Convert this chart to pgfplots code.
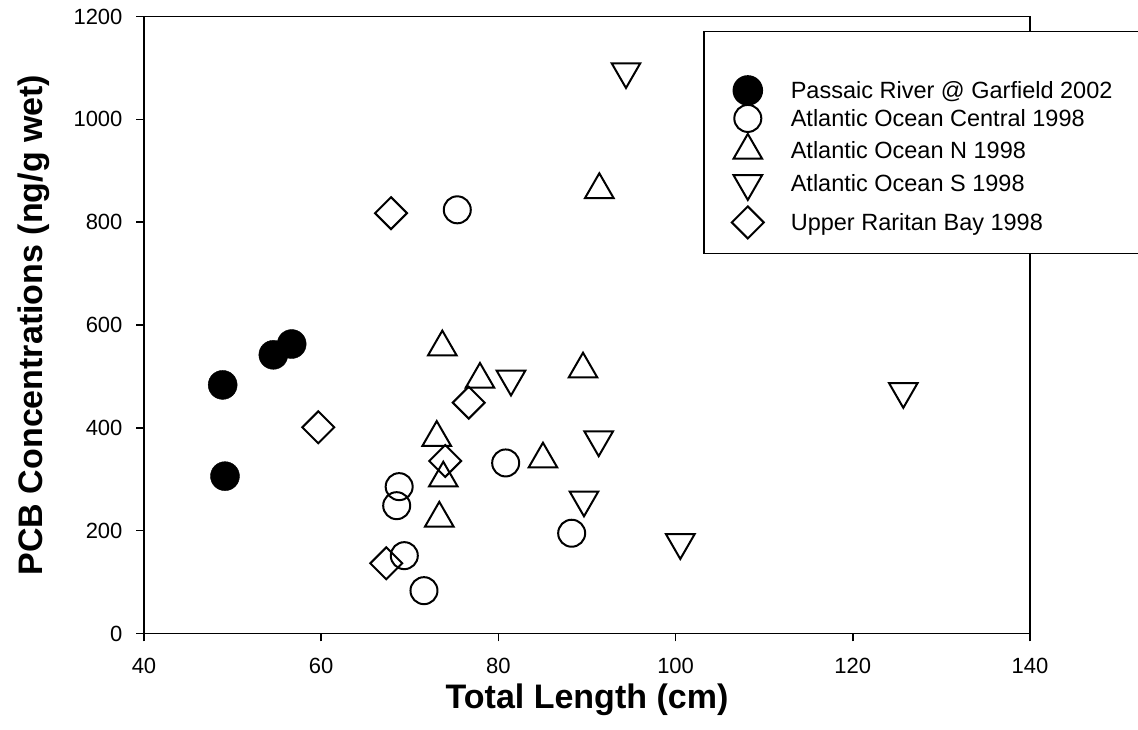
\documentclass[border=0pt]{standalone}
\usepackage{fontspec}
\setmainfont{Liberation Sans}
\usepackage{pgfplots}
\pgfplotsset{compat=1.18}
\begin{document}
\begin{tikzpicture}
\useasboundingbox (-144pt,-96.5pt) rectangle (994pt,633.5pt);
\begin{axis}[
  at={(0pt,0pt)}, anchor=south west,
  scale only axis, width=886pt, height=617pt,
  xmin=40, xmax=140, ymin=0, ymax=1200,
  xtick={40,60,...,140}, ytick={0,200,...,1200},
  tick align=outside, major tick length=8pt, tick pos=left,
  axis line style={line width=1.5pt},
  every tick/.style={black, line width=1.5pt},
  /pgf/number format/assume math mode=true,
  /pgf/number format/set thousands separator={},
  tick label style={font=\fontsize{22}{26}\selectfont},
  xticklabel style={font=\fontsize{22}{26}\selectfont, yshift=-13pt},
  yticklabel style={font=\fontsize{22}{26}\selectfont, xshift=-10pt},
  xlabel={\textbf{Total Length (cm)}},
  ylabel={\textbf{PCB Concentrations (ng/g wet)}},
  x label style={at={(axis description cs:0.5,-0.1215)}, anchor=base, font=\fontsize{34}{40}\selectfont},
  y label style={at={(axis description cs:-0.114,0.5)}, anchor=base, rotate=0, font=\fontsize{34}{40}\selectfont},
  legimg/.style 2 args={legend image code/.code={\path[draw=none, fill=none] (-44pt,-#1) rectangle (43pt,#2); \draw[##1, overlay] plot coordinates {(0pt,0pt)};}},
  legend cell align=left,
  legend style={at={(rel axis cs:0.631,0.977)}, anchor=north west, draw=black, line width=1.5pt, fill=white,
    inner xsep=0pt, inner ysep=0pt, row sep=0pt, column sep=0pt, font=\fontsize{23.5}{28}\selectfont,
    nodes={inner sep=0pt}},
]
\addplot[only marks, mark=*, mark size=14.5pt, draw=black, fill=black, legimg={14pt}{59pt}] coordinates {
(48.88,483.5) (49.14,306) (54.6,542) (56.67,563)};
\addlegendentry{Passaic River @ Garfield 2002\hspace*{40pt}}
\addplot[only marks, mark=o, mark size=13.5pt, line width=2pt, draw=black, fill=white, legimg={16pt}{14pt}] coordinates {
(75.36,824) (68.8,285.6) (68.52,248.6) (69.38,151.4) (71.6,83.3) (80.82,331.7) (88.27,195)};
\addlegendentry{Atlantic Ocean Central 1998}
\addplot[only marks, mark=triangle, mark size=16.5pt, line width=2pt, draw=black, fill=white, legimg={16pt}{16pt}] coordinates {
(73.67,557) (77.92,494) (73.04,381) (73.78,302) (73.33,224) (91.39,863) (89.55,514) (85.03,339)};
\addlegendentry{Atlantic Ocean N 1998}
\addplot[only marks, mark=triangle, mark size=16.5pt, line width=2pt, draw=black, fill=white, mark options={rotate=180}, legimg={19pt}{17pt}] coordinates {
(81.42,495) (91.32,377) (89.66,260) (100.53,177) (125.7,471) (94.4,1093)};
\addlegendentry{Atlantic Ocean S 1998}
\addplot[only marks, mark=square, mark size=11.3pt, line width=2pt, draw=black, fill=white, mark options={rotate=45}, legimg={31pt}{20pt}] coordinates {
(59.67,401) (74.0,335.6) (76.65,449) (67.35,136.6) (67.88,817.5)};
\addlegendentry{Upper Raritan Bay 1998}
\end{axis}
\end{tikzpicture}
\end{document}
